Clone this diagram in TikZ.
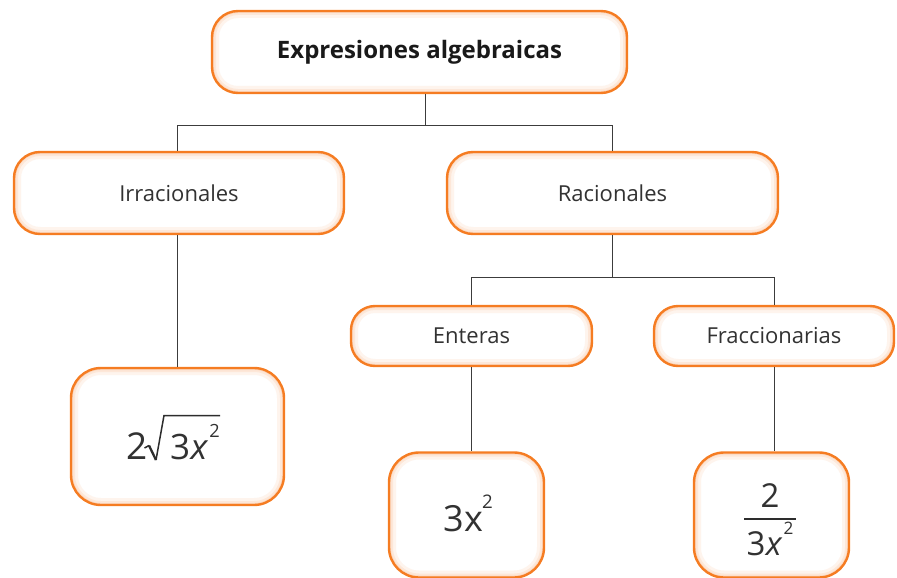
\documentclass[tikz,border=0pt]{standalone}
\usepackage{fontspec}
\setmainfont{Open Sans}
\usetikzlibrary{calc}
\definecolor{boxorange}{RGB}{245,124,34}
\definecolor{linegray}{RGB}{60,60,60}
\definecolor{txtgray}{RGB}{50,50,50}
\tikzset{
  box/.style={draw=boxorange, line width=2.4pt, fill=white, rounded corners=#1,
    inner sep=0pt, text=txtgray, font=\fontsize{22}{26}\selectfont,
    path picture={
      \draw[boxorange, draw opacity=0.08, line width=14pt, rounded corners=#1]
        (path picture bounding box.south west) rectangle (path picture bounding box.north east);
      \draw[boxorange, draw opacity=0.10, line width=8pt, rounded corners=#1]
        (path picture bounding box.south west) rectangle (path picture bounding box.north east);
      \draw[boxorange, draw opacity=0.14, line width=4pt, rounded corners=#1]
        (path picture bounding box.south west) rectangle (path picture bounding box.north east);
    }},
  box/.default=26pt,
  conn/.style={draw=linegray, line width=1pt},
  mtext/.style={inner sep=0pt, text=txtgray, font=\fontsize{#1}{#1}\selectfont},
  mtext/.default=35,
  mline/.style={draw=txtgray!90!black, line width=#1, line join=miter},
  mline/.default=1.5pt,
}
\newcommand{\ksup}[1]{\raisebox{0.62em}{\fontsize{0.52em}{0.52em}\selectfont #1}}
\begin{document}
\begin{tikzpicture}[x=1pt,y=-1pt]
\useasboundingbox (0,0) rectangle (897,578);
\begin{scope}
\clip (0,0) rectangle (897,578);
\node[box, minimum width=415pt, minimum height=82pt, font=\fontsize{24}{26}\selectfont\bfseries, text=black!90]
  (top) at (419.5,52) {Expresiones algebraicas};
\node[box, minimum width=330pt, minimum height=82pt] (irr) at (179,193) {Irracionales};
\node[box, minimum width=331pt, minimum height=82pt] (rac) at (612.5,193) {Racionales};
\node[box=24pt, minimum width=241pt, minimum height=60pt] (ent) at (471.5,336) {Enteras};
\node[box=24pt, minimum width=240pt, minimum height=60pt] (fra) at (774,336) {Fraccionarias};
\node[box=30pt, minimum width=213pt, minimum height=137pt] (irrx) at (177.5,436.5) {};
\node[box=30pt, minimum width=155pt, minimum height=125pt] (entx) at (466.5,515) {};
\node[box=30pt, minimum width=155pt, minimum height=125pt] (frax) at (771.5,515) {};
\end{scope}
% 2 sqrt(3x^2)
\node[mtext=37, anchor=base west] (i2) at (126,459) {2};
\node[mtext=35, anchor=base west] (irad) at (170,459) {3\kern0.5pt\textit{x}\kern1pt\ksup{2}};
\draw[mline] (144.5,448) -- (149,445.5);
\draw[mline=2.3pt] (149,445.5) -- (156,460);
\draw[mline] (156,460) -- (164,415.5) -- (irad.east |- 0,415.5);
% 3x^2
\node[mtext=36, anchor=base] (e3) at (468,531) {3\kern0.5pt x\kern-1pt\ksup{2}};
% 2 / 3x^2
\node[mtext=33, anchor=base] (fnum) at (770,507) {2};
\node[mtext=33, anchor=base] (fden) at (770,555) {3\kern0.5pt\textit{x}\kern1pt\ksup{2}};
\draw[mline=2.6pt] (744,519) -- (796,519);
% connectors
\coordinate (t1) at ($(top.south)+(5.5,0)$);
\draw[conn] (t1) -- ++(0,31) coordinate (j1);
\draw[conn] (irrx.north |- irr.north) |- (j1) -| (rac.north);
\draw[conn] (rac.south) -- ++(0,42) coordinate (j2);
\draw[conn] (ent.north) |- (j2) -| (fra.north);
\draw[conn] (irrx.north |- irr.south) -- (irrx.north);
\draw[conn] (ent.south) -- (ent.south |- entx.north);
\draw[conn] (fra.south) -- (fra.south |- frax.north);
\end{tikzpicture}
\end{document}
